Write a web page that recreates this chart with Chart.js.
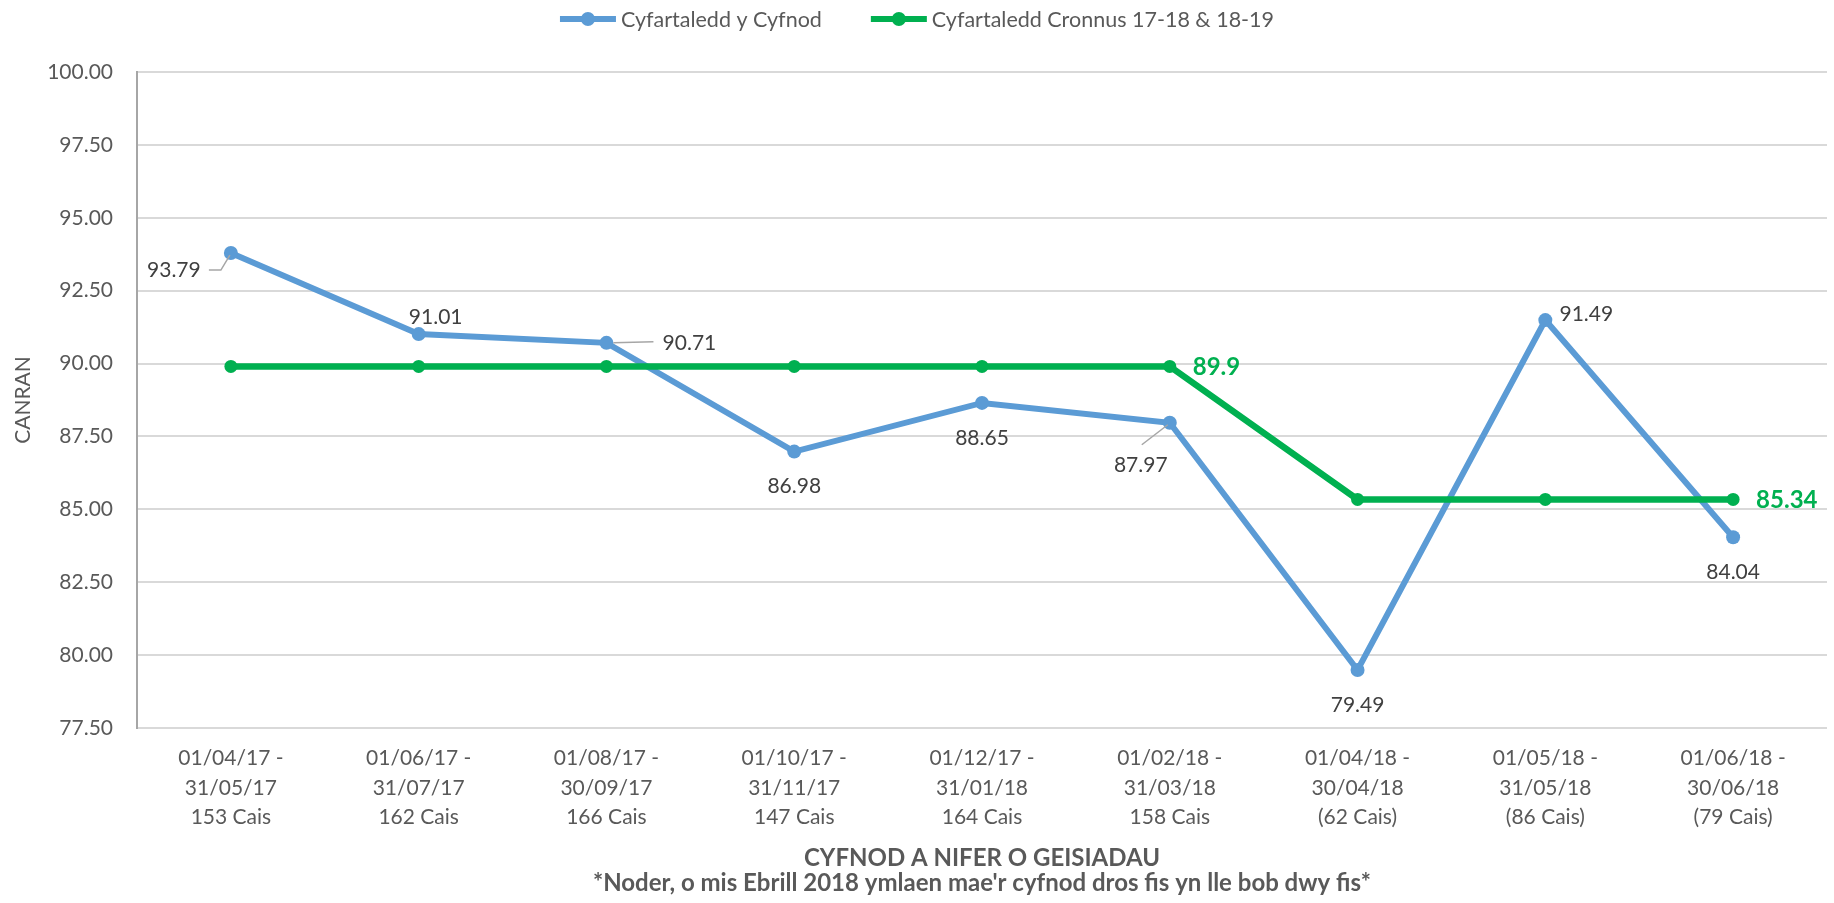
<!DOCTYPE html>
<html lang="cy">
<head>
<meta charset="utf-8">
<title>Cyfartaledd y Cyfnod</title>
<script src="https://cdn.jsdelivr.net/npm/chart.js@4.4.1/dist/chart.umd.min.js"></script>
<style>
  html, body { margin: 0; padding: 0; background: #fff; }
  #wrap { width: 1834px; height: 903px; position: relative; }
</style>
</head>
<body>
<div id="wrap"><canvas id="canranChart"></canvas></div>
<script>
// ==========================================
// DATA
// ==========================================
const periods = [
    ['01/04/17 -', '31/05/17', '153 Cais'],
    ['01/06/17 -', '31/07/17', '162 Cais'],
    ['01/08/17 -', '30/09/17', '166 Cais'],
    ['01/10/17 -', '31/11/17', '147 Cais'],
    ['01/12/17 -', '31/01/18', '164 Cais'],
    ['01/02/18 -', '31/03/18', '158 Cais'],
    ['01/04/18 -', '30/04/18', '(62 Cais)'],
    ['01/05/18 -', '31/05/18', '(86 Cais)'],
    ['01/06/18 -', '30/06/18', '(79 Cais)']
];
const cyfnodAvg = [93.79, 91.01, 90.71, 86.98, 88.65, 87.97, 79.49, 91.49, 84.04];
const cronnusAvg = [89.9, 89.9, 89.9, 89.9, 89.9, 89.9, 85.34, 85.34, 85.34];
const cronnusLabelIdx = [5, 8];
const yTickValues = [77.5, 80, 82.5, 85, 87.5, 90, 92.5, 95, 97.5, 100];
const seriesNames = ['Cyfartaledd y Cyfnod', 'Cyfartaledd Cronnus 17-18 & 18-19'];
const yTitle = 'CANRAN';
const xTitle = ['CYFNOD A NIFER O GEISIADAU', "*Noder, o mis Ebrill 2018 ymlaen mae'r cyfnod dros fis yn lle bob dwy fis*"];

const BLUE = '#5B9BD5';
const GREEN = '#00B050';
const TEXT = '#595959';
const FONT = 'Lato, "Liberation Sans", sans-serif';

// label placement (relative to each point, px)
const cyfnodLabelPos = [
    { dx: -57, dy: 17, leader: [[-22, 17], [-10, 17], [-1, 2]] },
    { dx: 17, dy: -17 },
    { dx: 83, dy: 0, leader: [[7, 0], [47, -1]] },
    { dx: 0, dy: 35 },
    { dx: 0, dy: 35 },
    { dx: -29, dy: 42, leader: [[-28, 22], [-2, 2]] },
    { dx: 0, dy: 35 },
    { dx: 41, dy: -6 },
    { dx: 0, dy: 35 }
];

// ==========================================
// PLUGINS
// ==========================================
const dataLabels = {
    id: 'dataLabels',
    afterDatasetsDraw(chart) {
        const ctx = chart.ctx;
        ctx.save();

        // blue series labels
        const blue = chart.getDatasetMeta(0).data;
        ctx.font = '21px ' + FONT;
        ctx.textBaseline = 'middle';
        ctx.textAlign = 'center';
        blue.forEach((pt, i) => {
            const p = cyfnodLabelPos[i];
            if (p.leader) {
                ctx.strokeStyle = '#A6A6A6';
                ctx.lineWidth = 1.5;
                ctx.beginPath();
                p.leader.forEach(([lx, ly], k) => {
                    if (k === 0) ctx.moveTo(pt.x + lx, pt.y + ly);
                    else ctx.lineTo(pt.x + lx, pt.y + ly);
                });
                ctx.stroke();
            }
            ctx.fillStyle = '#404040';
            ctx.fillText(cyfnodAvg[i].toFixed(2), pt.x + p.dx, pt.y + p.dy);
        });

        // green series labels (bold)
        const green = chart.getDatasetMeta(1).data;
        ctx.font = 'bold 24px ' + FONT;
        ctx.textAlign = 'left';
        ctx.fillStyle = GREEN;
        cronnusLabelIdx.forEach(i => {
            const pt = green[i];
            ctx.fillText(String(cronnusAvg[i]), pt.x + 23, pt.y + 1);
        });
        ctx.restore();
    }
};

const topLegend = {
    id: 'topLegend',
    afterDraw(chart) {
        const ctx = chart.ctx;
        const colors = [BLUE, GREEN];
        const lineLen = 56, textGap = 5, itemGap = 49, y = 19;
        ctx.save();
        ctx.font = '21.5px ' + FONT;
        ctx.textBaseline = 'middle';
        ctx.textAlign = 'left';
        const widths = seriesNames.map(n => ctx.measureText(n).width);
        const total = widths.reduce((a, w) => a + lineLen + textGap + w, 0) + itemGap;
        let x = chart.width / 2 - total / 2;
        seriesNames.forEach((name, i) => {
            ctx.strokeStyle = colors[i];
            ctx.lineWidth = 6;
            ctx.beginPath();
            ctx.moveTo(x, y);
            ctx.lineTo(x + lineLen, y);
            ctx.stroke();
            ctx.fillStyle = colors[i];
            ctx.beginPath();
            ctx.arc(x + lineLen / 2, y, 7, 0, Math.PI * 2);
            ctx.fill();
            ctx.fillStyle = TEXT;
            ctx.fillText(name, x + lineLen + textGap, y + 1);
            x += lineLen + textGap + widths[i] + itemGap;
        });
        ctx.restore();
    }
};

// ==========================================
// CHART
// ==========================================
const ctxCanran = document.getElementById('canranChart');
new Chart(ctxCanran, {
    type: 'line',
    data: {
        labels: periods,
        datasets: [{
            label: seriesNames[0],
            data: cyfnodAvg,
            borderColor: BLUE,
            backgroundColor: BLUE,
            borderWidth: 6,
            pointRadius: 7,
            pointBorderWidth: 0,
            pointBackgroundColor: BLUE,
            tension: 0,
            order: 2
        }, {
            label: seriesNames[1],
            data: cronnusAvg,
            borderColor: GREEN,
            backgroundColor: GREEN,
            borderWidth: 6.5,
            pointRadius: 6.5,
            pointBorderWidth: 0,
            pointBackgroundColor: GREEN,
            tension: 0,
            order: 1
        }]
    },
    options: {
        responsive: true,
        maintainAspectRatio: false,
        animation: false,
        layout: { padding: { top: 72, right: 0, bottom: 0, left: 0 } },
        plugins: {
            legend: { display: false },
            tooltip: { enabled: false }
        },
        scales: {
            x: {
                offset: true,
                grid: { display: false, drawTicks: false },
                border: { display: false },
                ticks: {
                    color: TEXT,
                    font: { family: FONT, size: 21, lineHeight: 1.4 },
                    padding: 16,
                    maxRotation: 0,
                    autoSkip: false
                },
                title: {
                    display: true,
                    text: xTitle,
                    color: TEXT,
                    font: { family: FONT, size: 24, weight: 'bold', lineHeight: 1.06 },
                    padding: { top: 0, bottom: 7 }
                },
                afterFit: s => { s.height = 175; }
            },
            y: {
                min: yTickValues[0],
                max: yTickValues[yTickValues.length - 1],
                afterBuildTicks: s => { s.ticks = yTickValues.map(v => ({ value: v })); },
                grid: { color: '#D9D9D9', lineWidth: 2, drawTicks: false },
                border: { display: true, color: '#A6A6A6', width: 2 },
                ticks: {
                    color: TEXT,
                    font: { family: FONT, size: 21 },
                    padding: 24,
                    callback: v => Number(v).toFixed(2)
                },
                title: {
                    display: true,
                    text: yTitle,
                    color: TEXT,
                    font: { family: FONT, size: 21 },
                    padding: { top: 11, bottom: 0 }
                },
                afterFit: s => { s.width = 137; }
            }
        }
    },
    plugins: [dataLabels, topLegend]
});
</script>
</body>
</html>
